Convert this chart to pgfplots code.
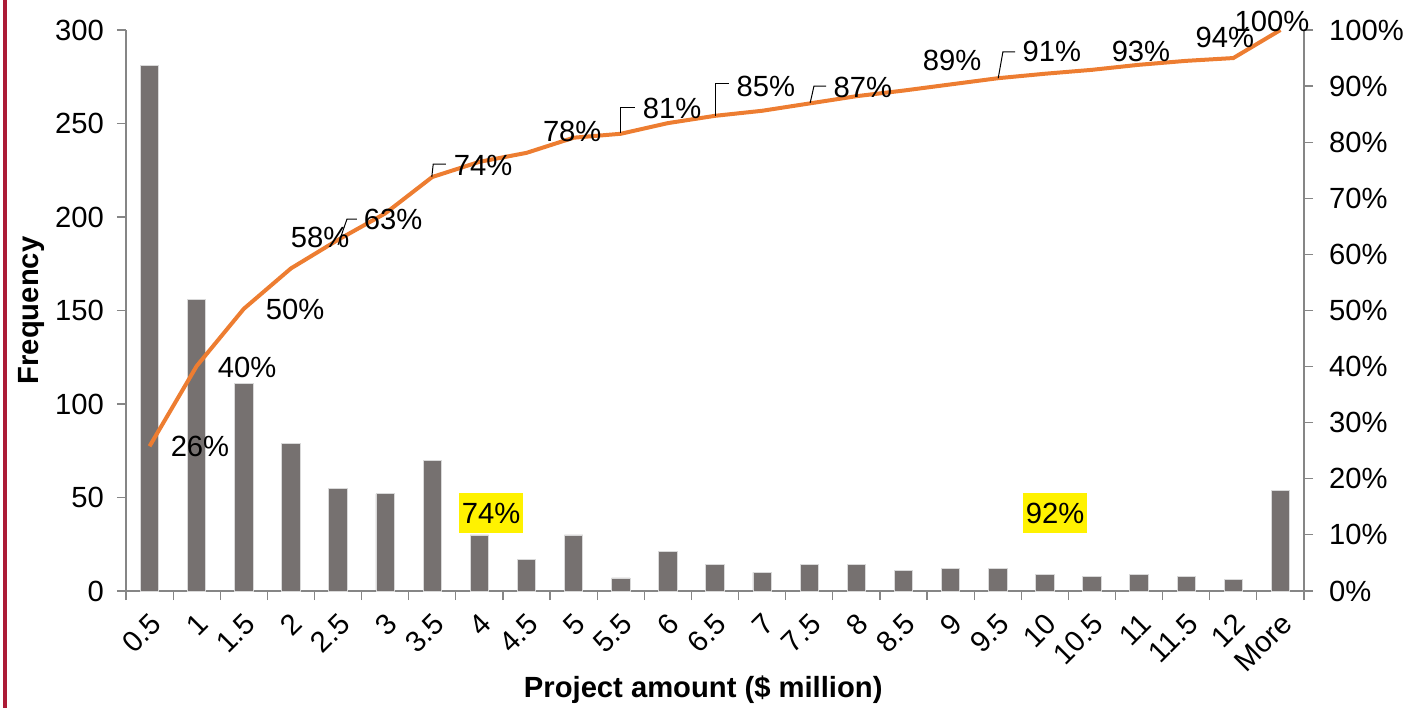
\documentclass[border=0pt]{standalone}
\usepackage{fontspec}
\setmainfont{Liberation Sans}
\usepackage{pgfplots}
\usepackage{pgfplotstable}
\pgfplotsset{compat=1.18}
\definecolor{bargray}{RGB}{118,113,112}
\definecolor{lineorange}{RGB}{237,125,49}
\definecolor{axgray}{RGB}{134,134,134}
\definecolor{sidered}{RGB}{172,27,54}

\pgfplotstableread{
idx freq cum
0 281 25.8
1 156 40.1
2 111 50.3
3 79 57.5
4 55 62.6
5 52 67.3
6 70 73.8
7 30 76.5
8 17 78.1
9 30 80.8
10 7 81.5
11 21 83.4
12 14 84.7
13 10 85.6
14 14 86.9
15 14 88.2
16 11 89.2
17 12 90.3
18 12 91.4
19 9 92.2
20 8 92.9
21 9 93.8
22 8 94.5
23 6 95.0
24 54 100
}\datatable

\newcommand{\f}{\fontsize{14.6bp}{17bp}\selectfont}

\begin{document}
\begin{tikzpicture}
\useasboundingbox (-63bp,-58.5bp) rectangle (640.5bp,295.5bp);
\fill[sidered] (-61.35bp,-58.5bp) rectangle (-59.35bp,295.5bp);
\begin{axis}[
  at={(0,0)}, anchor=south west,
  scale only axis, width=589bp, height=280.5bp,
  xmin=-0.5, xmax=24.5, ymin=0, ymax=300,
  axis y line*=left, axis x line*=bottom,
  axis line style={axgray, line width=0.6bp},
  tick style={axgray, line width=0.6bp},
  tick align=outside,
  major tick length=4.5bp, minor tick length=4.5bp,
  ytick={0,50,...,300},
  xtick={0,...,24},
  xticklabels={0.5,1,1.5,2,2.5,3,3.5,4,4.5,5,5.5,6,6.5,7,7.5,8,8.5,9,9.5,10,10.5,11,11.5,12,More},
  major x tick style={draw=none},
  minor xtick={-0.5,0.5,...,24.5},
  tick label style={font=\f},
  /pgf/number format/assume math mode=true,
  xticklabel style={rotate=45, anchor=east, yshift=-9bp, xshift=-1bp},
  yticklabel style={xshift=-3bp},
  ylabel={\bfseries Frequency},
  ylabel style={font=\f, at={([xshift=-47.5bp]axis description cs:0,0.5)}, anchor=center},
  xlabel={\bfseries Project amount (\$ million)},
  xlabel style={font=\f, at={([yshift=-49.5bp]axis description cs:0.49,0)}, anchor=center},
  clip=false,
]
\addplot[ybar, bar width=9.2bp, fill=bargray, draw=black!15, line width=0.4bp] table[x=idx, y=freq] {\datatable};
\end{axis}
\begin{axis}[
  at={(0,0)}, anchor=south west,
  scale only axis, width=589bp, height=280.5bp,
  xmin=-0.5, xmax=24.5, ymin=0, ymax=100,
  axis y line*=right, axis x line=none,
  axis line style={axgray, line width=0.6bp},
  tick style={axgray, line width=0.6bp},
  tick align=outside, major tick length=4.5bp,
  ytick={0,10,...,100},
  yticklabel={\pgfmathprintnumber{\tick}\%},
  tick label style={font=\f},
  /pgf/number format/assume math mode=true,
  yticklabel style={xshift=4.5bp},
  clip=false,
]
\addplot[lineorange, line width=2bp] table[x=idx, y=cum] {\datatable};
% leader lines
\draw[black, line width=0.5bp] (axis cs:4.0,61.7) -- (axis cs:4.19,66.3) -- (axis cs:4.40,66.3);
\draw[black, line width=0.5bp] (axis cs:5.99,73.8) -- (axis cs:6.02,76.1) -- (axis cs:6.29,76.1);
\draw[black, line width=0.5bp] (axis cs:10.0,81.6) -- (axis cs:10.0,86.1) -- (axis cs:10.30,86.1);
\draw[black, line width=0.5bp] (axis cs:12.02,84.7) -- (axis cs:12.02,90.4) -- (axis cs:12.30,90.4);
\draw[black, line width=0.5bp] (axis cs:14.02,87.0) -- (axis cs:14.10,90.0) -- (axis cs:14.36,90.0);
\draw[black, line width=0.5bp] (axis cs:18.01,91.4) -- (axis cs:18.11,96.1) -- (axis cs:18.37,96.1);
% data labels
\begin{scope}[every node/.style={font=\f, inner sep=0pt}]
\node at (axis cs:1.07,25.7) {26\%};
\node at (axis cs:2.07,39.9) {40\%};
\node at (axis cs:3.09,50.2) {50\%};
\node at (axis cs:3.62,63.1) {58\%};
\node at (axis cs:5.17,66.3) {63\%};
\node at (axis cs:7.08,75.8) {74\%};
\node at (axis cs:8.97,82.0) {78\%};
\node at (axis cs:11.09,86.1) {81\%};
\node at (axis cs:13.08,90.0) {85\%};
\node at (axis cs:15.14,89.8) {87\%};
\node at (axis cs:17.03,94.5) {89\%};
\node at (axis cs:19.15,96.1) {91\%};
\node at (axis cs:21.04,96.1) {93\%};
\node at (axis cs:22.82,98.6) {94\%};
\node at (axis cs:23.82,101.6) {100\%};
\node[fill=yellow, inner xsep=1.5bp, inner ysep=5bp] at (axis cs:7.25,13.9) {74\%};
\node[fill=yellow, inner xsep=1.5bp, inner ysep=5bp] at (axis cs:19.22,13.9) {92\%};
\end{scope}
\end{axis}
\end{tikzpicture}
\end{document}
